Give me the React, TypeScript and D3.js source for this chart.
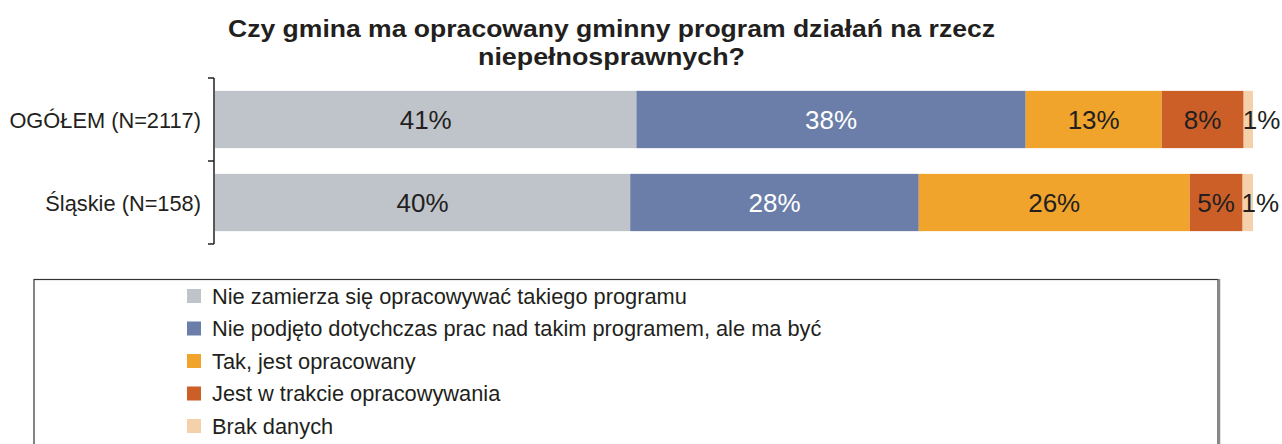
import React from 'react';
import * as d3 from 'd3';

const title = ['Czy gmina ma opracowany gminny program działań na rzecz', 'niepełnosprawnych?'];
const categories = ['OGÓŁEM (N=2117)', 'Śląskie (N=158)'];
const seriesNames = [
  'Nie zamierza się opracowywać takiego programu',
  'Nie podjęto dotychczas prac nad takim programem, ale ma być',
  'Tak, jest opracowany',
  'Jest w trakcie opracowywania',
  'Brak danych'
];
const colors = ['#bfc3ca', '#6b7ea9', '#f0a42b', '#cc5f28', '#f4d1ab'];
const textColors = ['#231f20', '#ffffff', '#231f20', '#231f20', '#231f20'];
// percent per series, one entry per category
const values = [
  [40.6, 40.0],
  [37.5, 27.8],
  [13.1, 26.1],
  [7.9, 5.1],
  [0.9, 1.0]
];

const font = 'Arial, "Liberation Sans", sans-serif';

export default function App() {
  const width = 1282;
  const height = 444;

  const x = d3.scaleLinear().domain([0, 100]).range([215, 1253]);
  const y = d3.scaleBand().domain(categories).range([78, 244]).paddingInner(0.31).paddingOuter(0.155);

  const rows = categories.map((c, ci) => {
    const obj: any = { cat: c };
    seriesNames.forEach((s, si) => { obj[s] = values[si][ci]; });
    return obj;
  });
  const stack = d3.stack().keys(seriesNames);
  const stacked = stack(rows);

  const ticks = [0, 1, 2].map(i => 78 + i * ((244 - 78) / 2));

  return (
    <svg width={width} height={height} style={{ position: 'absolute', left: 0, top: 0 }}>
      <rect width={width} height={height} fill="#fff" />
      <g fontFamily={font} fontWeight="bold" fontSize={24.5} fill="#231f20" textAnchor="middle">
        <text x={611.5} y={37} textLength={767} lengthAdjust="spacingAndGlyphs">{title[0]}</text>
        <text x={611.5} y={65} textLength={267} lengthAdjust="spacingAndGlyphs">{title[1]}</text>
      </g>

      {stacked.map((layer, si) => (
        <g key={si}>
          {layer.map((d, ci) => {
            const x0 = x(d[0]);
            const x1 = x(d[1]);
            const w = x1 - x0;
            const yy = y(categories[ci]) as number;
            const small = w < 20;
            return (
              <g key={ci}>
                <rect x={x0} y={yy} width={w} height={y.bandwidth()} fill={colors[si]} />
                <text
                  x={small ? x0 - 1 : (x0 + x1) / 2}
                  y={yy + y.bandwidth() / 2 + 9}
                  fontFamily={font}
                  fontSize={26}
                  fill={textColors[si]}
                  textAnchor={small ? 'start' : 'middle'}
                >
                  {Math.round(values[si][ci])}%
                </text>
              </g>
            );
          })}
        </g>
      ))}

      <g stroke="#231f20" strokeWidth={1.5}>
        <line x1={214} x2={214} y1={78} y2={244} />
        {ticks.map((t, i) => (
          <line key={i} x1={208} x2={214} y1={t} y2={t} />
        ))}
      </g>
      {categories.map((c) => (
        <text
          key={c}
          x={201}
          y={(y(c) as number) + y.bandwidth() / 2 + 8}
          fontFamily={font}
          fontSize={21.8}
          fill="#231f20"
          textAnchor="end"
        >
          {c}
        </text>
      ))}

      <rect x={34} y={279.5} width={1184} height={200} fill="none" stroke="#333" strokeWidth={1.2} />
      <line x1={1219} x2={1219} y1={279} y2={444} stroke="#888" strokeWidth={2.5} />
      {seriesNames.map((s, i) => (
        <g key={s} transform={`translate(187,${289 + i * 32.5})`}>
          <rect width={14} height={14} fill={colors[i]} />
          <text x={25} y={14.5} fontFamily={font} fontSize={21.8} fill="#231f20">{s}</text>
        </g>
      ))}
    </svg>
  );
}
